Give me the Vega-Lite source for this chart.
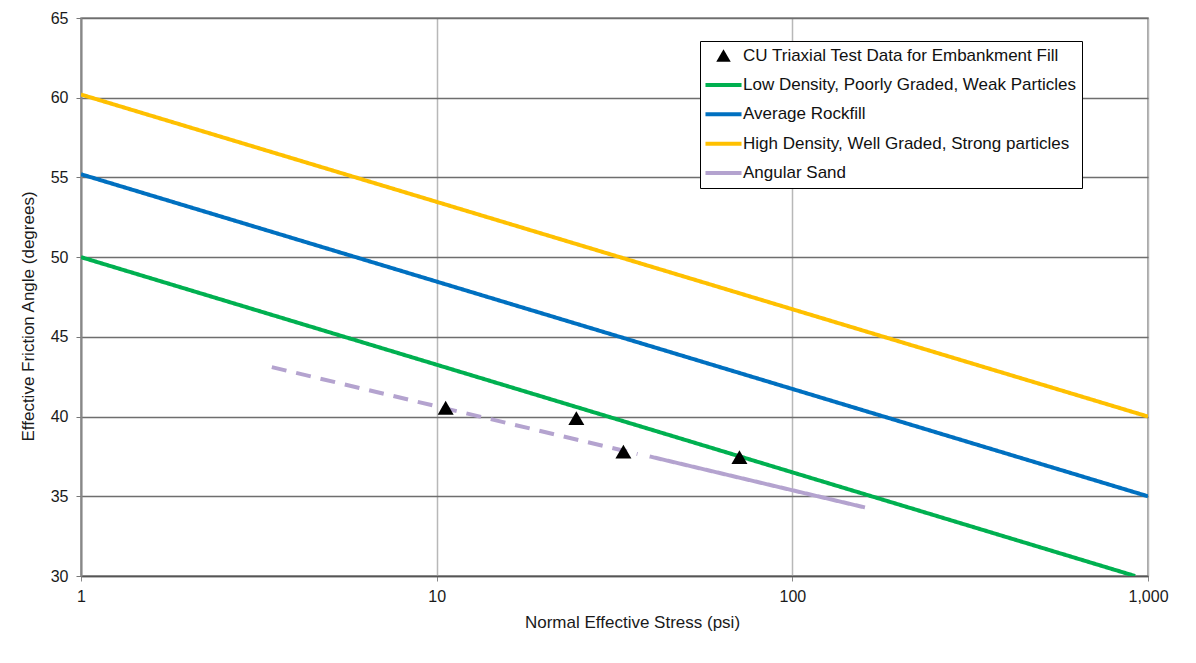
{
  "$schema": "https://vega.github.io/schema/vega-lite/v6.json",
  "width": 1067,
  "height": 558,
  "autosize": {"type": "none"},
  "padding": {"left": 81, "top": 18, "right": 48, "bottom": 87},
  "background": "white",
  "config": {
    "font": "Liberation Sans",
    "view": {"stroke": "#8a8a8a", "strokeWidth": 1.5},
    "legend": {
      "orient": "none",
      "legendX": 619,
      "legendY": 23,
      "fillColor": "white",
      "strokeColor": "black",
      "strokeWidth": 1,
      "padding": 6,
      "labelFontSize": 17,
      "labelColor": "#111",
      "labelLimit": 600,
      "symbolStrokeWidth": 4,
      "symbolOffset": 9,
      "labelOffset": 11,
      "rowPadding": 11.4
    }
  },
  "datasets": {
    "lines": [
      {"series": "High Density, Well Graded, Strong particles", "seg": "y", "dash": "solid", "stress": 1, "angle": 60.2},
      {"series": "High Density, Well Graded, Strong particles", "seg": "y", "dash": "solid", "stress": 1000, "angle": 40.0},
      {"series": "Average Rockfill", "seg": "b", "dash": "solid", "stress": 1, "angle": 55.2},
      {"series": "Average Rockfill", "seg": "b", "dash": "solid", "stress": 1000, "angle": 35.0},
      {"series": "Low Density, Poorly Graded, Weak Particles", "seg": "g", "dash": "solid", "stress": 1, "angle": 50.0},
      {"series": "Low Density, Poorly Graded, Weak Particles", "seg": "g", "dash": "solid", "stress": 920, "angle": 30.0},
      {"series": "Angular Sand", "seg": "p1", "dash": "dashed", "stress": 3.44, "angle": 43.1},
      {"series": "Angular Sand", "seg": "p1", "dash": "dashed", "stress": 36.7, "angle": 37.65},
      {"series": "Angular Sand", "seg": "p2", "dash": "solid", "stress": 39.7, "angle": 37.5},
      {"series": "Angular Sand", "seg": "p2", "dash": "solid", "stress": 160, "angle": 34.3}
    ],
    "points": [
      {"series": "CU Triaxial Test Data for Embankment Fill", "stress": 10.6, "angle": 40.55},
      {"series": "CU Triaxial Test Data for Embankment Fill", "stress": 24.7, "angle": 39.9},
      {"series": "CU Triaxial Test Data for Embankment Fill", "stress": 33.5, "angle": 37.8},
      {"series": "CU Triaxial Test Data for Embankment Fill", "stress": 71, "angle": 37.46}
    ]
  },
  "encoding": {
    "x": {
      "field": "stress",
      "type": "quantitative",
      "scale": {"type": "log", "domain": [1, 1000], "nice": false},
      "axis": {
        "values": [1, 10, 100, 1000],
        "format": ",",
        "grid": true,
        "gridColor": "#b8b8b8",
        "gridWidth": 1.5,
        "domainColor": "#555",
        "domainWidth": 1.5,
        "tickColor": "#888",
        "tickSize": 5,
        "labelFontSize": 16,
        "labelColor": "#1a1a1a",
        "labelPadding": 7,
        "labelFlush": false,
        "title": "Normal Effective Stress (psi)",
        "titleFontSize": 17,
        "titleFontWeight": "normal",
        "titleColor": "#1a1a1a",
        "titleX": 551,
        "titleY": 46,
        "titleBaseline": "middle",
        "titleAlign": "center"
      }
    },
    "y": {
      "field": "angle",
      "type": "quantitative",
      "scale": {"domain": [30, 65], "nice": false, "zero": false},
      "axis": {
        "values": [30, 35, 40, 45, 50, 55, 60, 65],
        "grid": true,
        "gridColor": "#6e6e6e",
        "gridWidth": 1.5,
        "domainColor": "#888",
        "domainWidth": 2,
        "tickColor": "#777",
        "tickSize": 5,
        "labelFontSize": 16,
        "labelColor": "#1a1a1a",
        "labelPadding": 8,
        "labelFlush": false,
        "title": "Effective Friction Angle (degrees)",
        "titleFontSize": 17,
        "titleFontWeight": "normal",
        "titleColor": "#1a1a1a",
        "titleX": -53,
        "titleY": 298,
        "titleAngle": -90,
        "titleBaseline": "middle",
        "titleAlign": "center"
      }
    }
  },
  "layer": [
    {
      "data": {"name": "lines"},
      "mark": {"type": "line", "strokeWidth": 4, "clip": true},
      "encoding": {
        "color": {
          "field": "series",
          "type": "nominal",
          "scale": {
            "domain": ["CU Triaxial Test Data for Embankment Fill", "Low Density, Poorly Graded, Weak Particles", "Average Rockfill", "High Density, Well Graded, Strong particles", "Angular Sand"],
            "range": ["#000000", "#00b050", "#0070c0", "#ffc000", "#b4a3cf"]
          },
          "legend": {
            "title": null,
            "encode": {
              "symbols": {
                "update": {
                  "fill": {"signal": "datum.value === 'CU Triaxial Test Data for Embankment Fill' ? 'black' : 'transparent'"},
                  "stroke": {"signal": "datum.value === 'CU Triaxial Test Data for Embankment Fill' ? 'transparent' : scale('color', datum.value)"},
                  "size": {"signal": "datum.value === 'CU Triaxial Test Data for Embankment Fill' ? 210 : 1300"},
                  "strokeWidth": {"signal": "datum.value === 'CU Triaxial Test Data for Embankment Fill' ? 0 : 4"}
                }
              }
            }
          }
        },
        "detail": {"field": "seg"},
        "strokeDash": {
          "field": "dash",
          "type": "nominal",
          "scale": {"domain": ["solid", "dashed"], "range": [[1, 0], [15, 10]]},
          "legend": null
        }
      }
    },
    {
      "data": {"name": "points"},
      "mark": {"type": "point", "filled": true, "size": 256, "opacity": 1},
      "encoding": {
        "color": {"field": "series", "type": "nominal", "legend": {"title": null}},
        "shape": {
          "field": "series",
          "type": "nominal",
          "scale": {
            "domain": ["CU Triaxial Test Data for Embankment Fill", "Low Density, Poorly Graded, Weak Particles", "Average Rockfill", "High Density, Well Graded, Strong particles", "Angular Sand"],
            "range": ["triangle-up", "stroke", "stroke", "stroke", "stroke"]
          },
          "legend": {"title": null}
        }
      }
    }
  ]
}
